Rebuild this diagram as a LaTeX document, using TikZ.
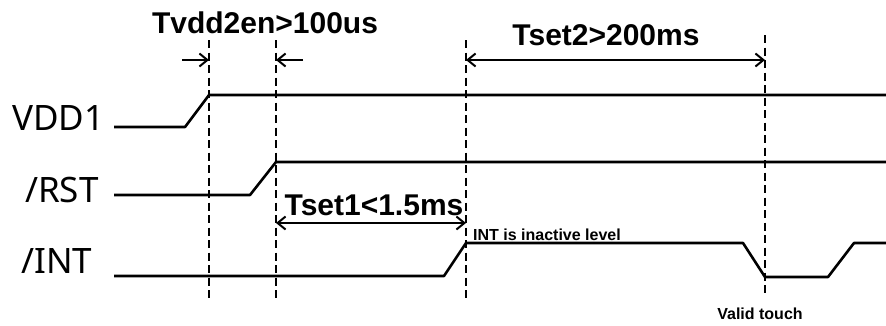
\documentclass[tikz,border=0pt]{standalone}
\usepackage{fontspec}
\setmainfont{Liberation Sans}
\newfontfamily\signalfont{Noto Sans}
\usetikzlibrary{arrows.meta}

\tikzset{
  signal/.style={line width=2.6pt, line join=round},
  marker/.style={line width=2.2pt, dash pattern=on 8pt off 4.5pt},
  span/.style={line width=2pt},
  signal name/.style={font=\signalfont\fontsize{35}{35}\selectfont, anchor=base west, inner sep=0pt},
  span label/.style={font=\bfseries\fontsize{30}{30}\selectfont, anchor=base, inner sep=0pt},
  note/.style={font=\bfseries\fontsize{16}{16}\selectfont, inner sep=0pt}
}

\begin{document}
\begin{tikzpicture}[x=1pt, y=-1pt, >={Straight Barb[length=8pt, width=13pt]}]
\useasboundingbox (0,0) rectangle (886,325);

% dashed time markers
\foreach \n/\x/\t/\b in {a/209/40/300, b/276/40/300, c/466/40/298, d/765/35/295} {
  \coordinate (top-\n) at (\x,\t);
  \coordinate (bot-\n) at (\x,\b);
  \draw [marker] (top-\n) -- (bot-\n);
}

% signal names
\node [signal name] (vdd) at (12,130) {VDD1};
\node [signal name] (rst) at (25,202) {/RST};
\node [signal name] (int) at (21,273) {/INT};

% waveforms
\draw [signal] (114,127) -- (185,127) -- (209,95) -- (886,95);
\draw [signal] (114,195) -- (250,195) -- (276,162) -- (886,162);
\draw [signal] (114,276) -- (444,276) -- (466,243) -- (743,243)
  -- (765,277) -- (828,277) -- (854,243) -- (886,243);

% arrow ends
\coordinate (en-left) at (182,60);
\coordinate (en-a) at (209,60);
\coordinate (en-right) at (303,60);
\coordinate (en-b) at (276,60);
\coordinate (set2-c) at (466,60);
\coordinate (set2-d) at (765,60);
\coordinate (set1-b) at (276,223);
\coordinate (set1-c) at (466,223);

\draw [span, ->] (en-left) -- (en-a);
\draw [span, ->] (en-right) -- (en-b);
\draw [span, <->] (set2-c) -- (set2-d);
\draw [span, <->] (set1-b) -- (set1-c);

% timing labels
\node [span label] (t-en) at (265,33) {Tvdd2en>100us};
\node [span label] (t-set2) at (606,45) {Tset2>200ms};
\node [span label] (t-set1) at (374,215) {Tset1<1.5ms};

\node [note, anchor=base west] (inactive) at (473,240) {INT is inactive level};
\node [note, anchor=base] (touch) at (760,319) {Valid touch};

\end{tikzpicture}
\end{document}
